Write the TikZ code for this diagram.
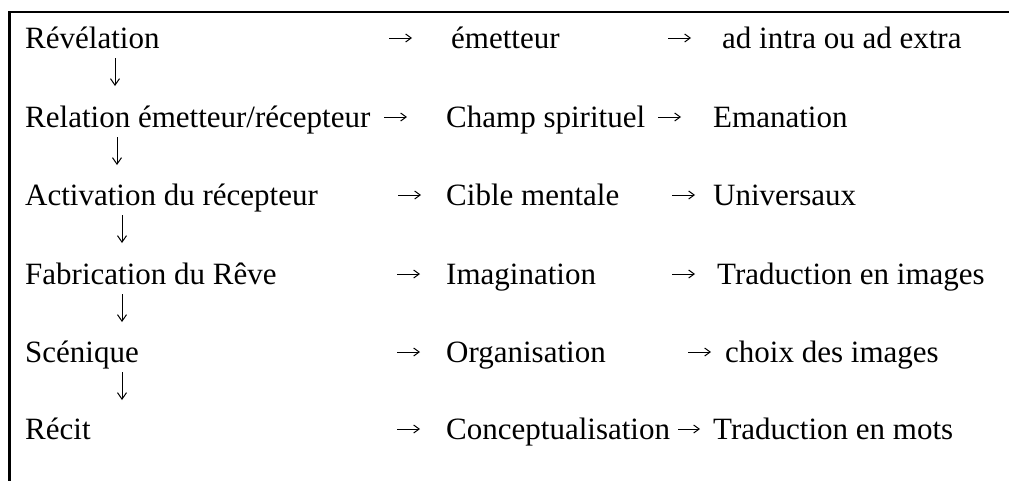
\documentclass[tikz,border=0pt]{standalone}
\usepackage{fontspec}
\setmainfont{Liberation Serif}
\usetikzlibrary{arrows.meta}
\begin{document}
\begin{tikzpicture}[x=1pt,y=-1pt,
  txt/.style={inner sep=0pt, anchor=base west, font=\fontsize{31}{37}\selectfont},
  harr/.style={line width=1pt, -{Straight Barb[length=5.5pt,width=8pt,line width=1pt]}},
  varr/.style={line width=1pt, -{Straight Barb[length=6.5pt,width=9pt,line width=1pt]}},
  frame/.style={line width=2.2pt}]
\useasboundingbox (0,0) rectangle (1009,480);
\draw[frame] (9.5,481) -- (9.5,12) -- (1010,12);
% row 1
\node[txt] (a1) at (25,48) {Révélation};
\node[txt] (b1) at (451,48) {émetteur};
\node[txt] (c1) at (722,48) {ad intra ou ad extra};
\coordinate (p1) at (389,38); \coordinate (p1e) at (412,38);
\coordinate (q1) at (668,38); \coordinate (q1e) at (691,38);
\coordinate (d1) at (115,58); \coordinate (d1e) at (115,86);
% row 2
\node[txt] (a2) at (25,127) {Relation émetteur/récepteur};
\node[txt] (b2) at (446,127) {Champ spirituel};
\node[txt] (c2) at (713,127) {Emanation};
\coordinate (p2) at (384,117); \coordinate (p2e) at (407,117);
\coordinate (q2) at (658,117); \coordinate (q2e) at (681,117);
\coordinate (d2) at (117,137); \coordinate (d2e) at (117,165);
% row 3
\node[txt] (a3) at (25,205) {Activation du récepteur};
\node[txt] (b3) at (446,205) {Cible mentale};
\node[txt] (c3) at (713,205) {Universaux};
\coordinate (p3) at (398,195); \coordinate (p3e) at (421,195);
\coordinate (q3) at (672,195); \coordinate (q3e) at (695,195);
\coordinate (d3) at (122,215); \coordinate (d3e) at (122,243);
% row 4
\node[txt] (a4) at (25,284) {Fabrication du Rêve};
\node[txt] (b4) at (446,284) {Imagination};
\node[txt] (c4) at (717,284) {Traduction en images};
\coordinate (p4) at (397,274); \coordinate (p4e) at (420,274);
\coordinate (q4) at (672,274); \coordinate (q4e) at (695,274);
\coordinate (d4) at (122,294); \coordinate (d4e) at (122,322);
% row 5
\node[txt] (a5) at (25,362) {Scénique};
\node[txt] (b5) at (446,362) {Organisation};
\node[txt] (c5) at (725,362) {choix des images};
\coordinate (p5) at (397,352); \coordinate (p5e) at (420,352);
\coordinate (q5) at (688,352); \coordinate (q5e) at (711,352);
\coordinate (d5) at (122,372); \coordinate (d5e) at (122,400);
% row 6
\node[txt] (a6) at (25,439) {Récit};
\node[txt] (b6) at (446,439) {Conceptualisation};
\node[txt] (c6) at (713,439) {Traduction en mots};
\coordinate (p6) at (397,429); \coordinate (p6e) at (420,429);
\coordinate (q6) at (678,429); \coordinate (q6e) at (700,429);
% arrows
\foreach \n in {1,...,6}{
  \draw[harr] (p\n) -- (p\n e);
  \draw[harr] (q\n) -- (q\n e);
}
\foreach \n in {1,...,5}{
  \draw[varr] (d\n) -- (d\n e);
}
\end{tikzpicture}
\end{document}
